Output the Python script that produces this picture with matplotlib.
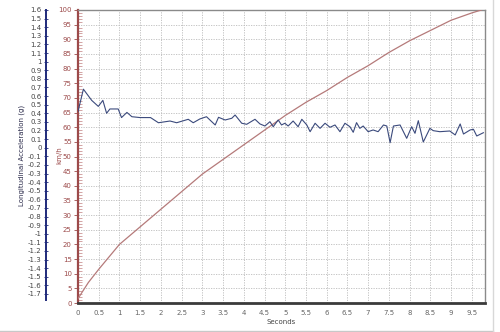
import matplotlib
matplotlib.use("Agg")
import matplotlib.pyplot as plt
from matplotlib.ticker import MultipleLocator, FixedLocator
from matplotlib.lines import Line2D
import numpy as np

# Speed (km/h) vs time (s)
speed_t = [0.0, 0.25, 0.5, 1.0, 1.5, 2.0, 2.5, 3.0, 3.5, 4.0, 4.5, 5.0, 5.5,
           6.0, 6.5, 7.0, 7.5, 8.0, 8.5, 9.0, 9.5, 9.73]
speed_kmh = [1.5, 7.0, 11.5, 20.0, 26.0, 32.0, 38.0, 44.0, 49.0, 54.0, 59.0,
             64.0, 68.5, 72.5, 77.0, 81.0, 85.5, 89.5, 93.0, 96.5, 99.0, 100.0]

# Longitudinal acceleration (g) vs time (s)
acc_t = [0.0, 0.13, 0.33, 0.49, 0.60, 0.69, 0.77, 0.97, 1.05, 1.18, 1.30, 1.50,
         1.75, 1.94, 2.22, 2.38, 2.66, 2.78, 2.94, 3.10, 3.31, 3.39, 3.55, 3.71,
         3.79, 3.95, 4.07, 4.27, 4.39, 4.51, 4.63, 4.71, 4.83, 4.91, 4.99, 5.07,
         5.19, 5.31, 5.40, 5.52, 5.60, 5.72, 5.84, 5.96, 6.08, 6.20, 6.32, 6.44,
         6.56, 6.64, 6.72, 6.80, 6.88, 7.00, 7.12, 7.24, 7.37, 7.45, 7.53, 7.61,
         7.77, 7.93, 8.05, 8.13, 8.21, 8.33, 8.49, 8.57, 8.73, 8.97, 9.10, 9.22,
         9.30, 9.46, 9.54, 9.62, 9.78]
acc_g = [0.42, 0.68, 0.55, 0.48, 0.55, 0.40, 0.45, 0.45, 0.35, 0.41, 0.36, 0.35,
         0.35, 0.29, 0.31, 0.29, 0.33, 0.29, 0.334, 0.36, 0.264, 0.353, 0.322, 0.342,
         0.38, 0.284, 0.272, 0.33, 0.276, 0.252, 0.302, 0.244, 0.322, 0.264, 0.284, 0.252,
         0.31, 0.244, 0.33, 0.264, 0.186, 0.284, 0.225, 0.284, 0.237, 0.264, 0.186, 0.284,
         0.244, 0.179, 0.291, 0.225, 0.252, 0.186, 0.206, 0.186, 0.264, 0.252, 0.058, 0.252,
         0.264, 0.109, 0.244, 0.167, 0.314, 0.066, 0.225, 0.198, 0.186, 0.194, 0.148, 0.276,
         0.159, 0.206, 0.214, 0.136, 0.174]

x_ticks = [i * 0.5 for i in range(20)]
x_labels = [f"{v:g}" for v in x_ticks]
kmh_ticks = list(range(0, 101, 5))
g_ticks = [round(-1.7 + 0.1 * i, 1) for i in range(34)]
g_labels = [f"{v:g}" if abs(v) > 1e-9 else "0" for v in g_ticks]

W, H = 500, 332
fig = plt.figure(figsize=(5, 3.32), dpi=100)
fig.patch.set_facecolor("white")

L, R, T, B = 78, 485, 10, 303
ax = fig.add_axes([L / W, (H - B) / H, (R - L) / W, (B - T) / H])
ax.set_xlim(0, (R - L) / 41.45)
ax.set_ylim(0, 100)

grid_c = "#bcbcbc"
ax.set_xticks(x_ticks)
ax.set_xticklabels(x_labels)
ax.set_yticks(kmh_ticks)
ax.grid(True, color=grid_c, linestyle=(0, (1.5, 1.5)), linewidth=0.6)
ax.set_axisbelow(True)

red_c = "#9c4a4a"
ax.plot(speed_t, speed_kmh, color="#b57a7a", linewidth=0.9, zorder=3)

for s in ["top", "right"]:
    ax.spines[s].set_color("#8a8a8a")
    ax.spines[s].set_linewidth(1.0)
ax.spines["bottom"].set_color("#3a3a3a")
ax.spines["bottom"].set_linewidth(2.0)
ax.spines["left"].set_color(red_c)
ax.spines["left"].set_linewidth(1.6)

ax.tick_params(axis="x", labelsize=5, colors="#666666", length=0, pad=5)
ax.tick_params(axis="y", labelsize=5, labelcolor=red_c, color=red_c, length=3, width=0.6, pad=1.5)
ax.yaxis.set_minor_locator(MultipleLocator(1))
ax.tick_params(axis="y", which="minor", direction="in", length=3, width=0.5, color="#c08080")
ax.set_ylabel("km/h", fontsize=5, color=red_c)
ax.yaxis.set_label_coords(-16 / (R - L), (B - 155) / (B - T))
ax.set_xlabel("Seconds", fontsize=5, color="#444444", labelpad=2)

# acceleration axis
g_top = 1.6
g_per_px = 0.1 / 8.606
g_bottom = g_top - (B - T) * g_per_px
ax2 = ax.twinx()
ax2.set_ylim(g_bottom, g_top)
ax2.plot(acc_t, acc_g, color="#3b4a7c", linewidth=0.8, zorder=4)
ax2.yaxis.set_ticks_position("left")
ax2.yaxis.set_label_position("left")
for s in ["top", "right", "bottom"]:
    ax2.spines[s].set_visible(False)
ax2.spines["left"].set_visible(True)
ax2.spines["left"].set_position(("outward", (L - 45.7) * 0.72))
ax2.spines["left"].set_color("#1f2a7a")
ax2.spines["left"].set_linewidth(1.4)
ax2.spines["left"].set_bounds(g_top - (300 - T) * g_per_px, g_top)
ax2.yaxis.set_major_locator(FixedLocator(g_ticks))
ax2.set_yticklabels(g_labels)
ax2.tick_params(axis="y", labelsize=5, labelcolor="#444444", color="#1f2a7a",
                direction="inout", length=3, width=0.6, pad=1.5)
ax2.set_ylabel("Longitudinal Acceleration (g)", fontsize=5, color="#2a2a4a")
ax2.yaxis.set_label_coords(-(L - 25) / (R - L), (B - 155) / (B - T))

# window frame lines
fig.add_artist(Line2D([0, 493 / W], [1 - 330.5 / H, 1 - 330.5 / H], color="#c8c8c8", linewidth=1.0))
fig.add_artist(Line2D([493 / W, 493 / W], [1 - 330.5 / H, 1], color="#d8d8d8", linewidth=1.0))

fig.savefig("out.png", dpi=100, facecolor="white")
